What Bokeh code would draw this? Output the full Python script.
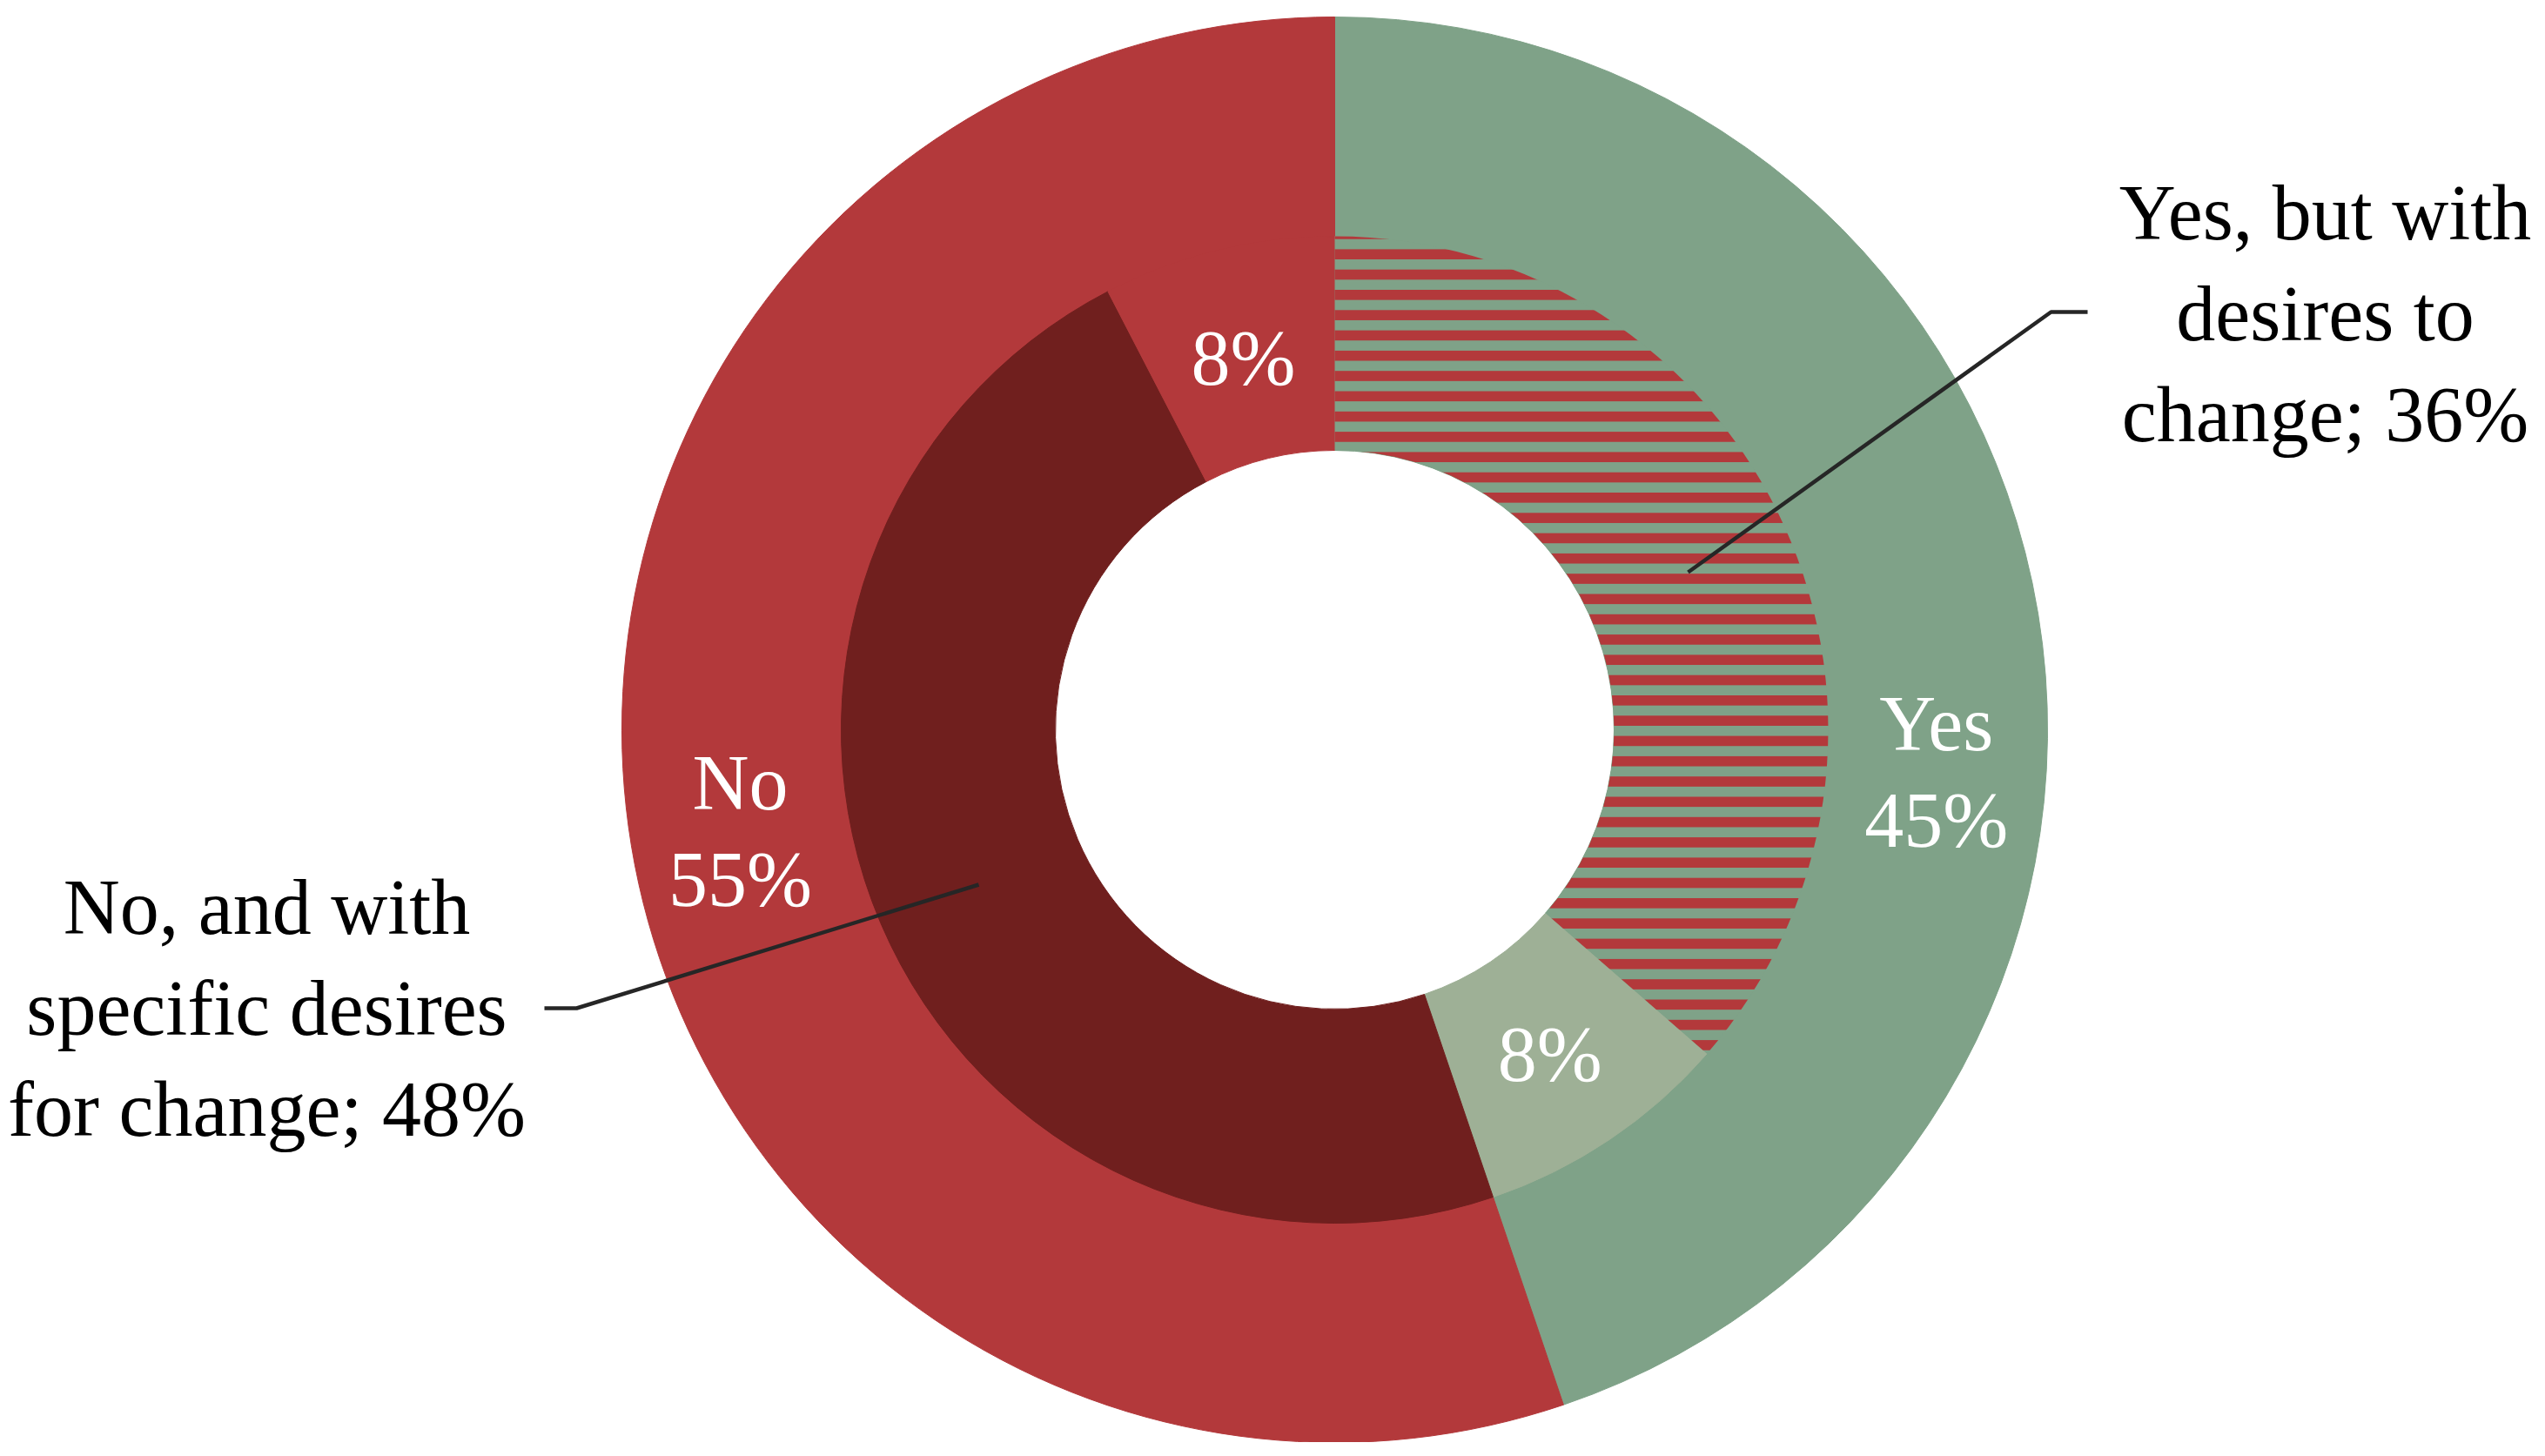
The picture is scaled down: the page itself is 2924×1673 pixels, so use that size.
import math
from bokeh.plotting import figure
from bokeh.models import Range1d, ColumnDataSource
from bokeh.core.properties import value
from bokeh.embed import file_html
from bokeh.resources import INLINE

# ---------------- data ----------------
outer_categories = ["Yes", "No"]
outer_values = [44.8, 55.2]
outer_pct_text = ["45%", "55%"]

inner_categories = ["Yes, but with desires to change", "Yes",
                    "No, and with specific desires for change", "No"]
inner_values = [36.4, 8.4, 47.6, 7.6]
inner_pct_text = ["36%", "8%", "48%", "8%"]

# ---------------- style / layout ----------------
RED = "#b3393b"
GREEN = "#7fa288"
DARK_RED = "#701f1e"
LIGHT_GREEN = "#9eb096"
outer_colors = [GREEN, RED]
inner_colors = [GREEN, LIGHT_GREEN, DARK_RED, RED]

PAGE_W, PAGE_H = 2924, 1673
W, H = 2908, 1657


def Y(py):
    return PAGE_H - py


CX, CY = 1533, Y(838)
R_OUT, R_MID, R_HOLE = 819, 567, 321
FONT = value("Liberation Serif")
FS = "90px"


def angles(values):
    total = float(sum(values))
    starts, ends, mids = [], [], []
    cum = 0.0
    for v in values:
        a0 = math.pi / 2 - 2 * math.pi * cum / total
        a1 = math.pi / 2 - 2 * math.pi * (cum + v) / total
        starts.append(a0)
        ends.append(a1)
        mids.append((a0 + a1) / 2)
        cum += v
    return starts, ends, mids


p = figure(width=W, height=H, output_backend="svg", toolbar_location=None,
           x_range=Range1d(0, W), y_range=Range1d(PAGE_H - H, PAGE_H),
           x_axis_location=None, y_axis_location=None, min_border=0)
p.grid.visible = False
p.outline_line_color = None
p.background_fill_color = "white"
p.border_fill_color = "white"

# outer ring
o_s, o_e, o_m = angles(outer_values)
outer_src = ColumnDataSource(dict(start=o_s, end=o_e, color=outer_colors,
                                  cat=outer_categories))
p.annular_wedge(x=CX, y=CY, inner_radius=R_MID - 3, outer_radius=R_OUT,
                start_angle="start", end_angle="end", direction="clock",
                fill_color="color", line_color="color", line_width=1,
                source=outer_src)

# inner ring
i_s, i_e, i_m = angles(inner_values)
inner_src = ColumnDataSource(dict(start=i_s, end=i_e, color=inner_colors,
                                  cat=inner_categories))
p.annular_wedge(x=CX, y=CY, inner_radius=R_HOLE, outer_radius=R_MID,
                start_angle="start", end_angle="end", direction="clock",
                fill_color="color", line_color="color", line_width=1,
                source=inner_src)

# hatched wedge (first inner category)
p.annular_wedge(x=CX, y=CY, inner_radius=R_HOLE, outer_radius=R_MID,
                start_angle=i_s[0], end_angle=i_e[0], direction="clock",
                fill_color=GREEN, line_color=None,
                hatch_pattern="horizontal_line", hatch_color=RED,
                hatch_scale=23.3, hatch_weight=11.5, hatch_alpha=1.0)

# inner labels (8% slices)
R_IN_LAB = (R_HOLE + R_MID) / 2
lab_idx = [1, 3]
p.text(x=[CX + R_IN_LAB * math.cos(i_m[k]) for k in lab_idx],
       y=[CY + R_IN_LAB * math.sin(i_m[k]) - 4 for k in lab_idx],
       text=[inner_pct_text[k] for k in lab_idx],
       text_font=FONT, text_font_size=FS, text_color="white",
       text_align="center", text_baseline="middle")

# outer labels
R_OUT_LAB = (R_MID + R_OUT) / 2
outer_label_angles = [math.radians(90 - 94), math.radians(90 - 260.3)]
p.text(x=[CX + R_OUT_LAB * math.cos(a) for a in outer_label_angles],
       y=[CY + R_OUT_LAB * math.sin(a) for a in outer_label_angles],
       text=[c + "\n" + t for c, t in zip(outer_categories, outer_pct_text)],
       text_font=FONT, text_font_size=FS, text_color="white",
       text_align="center", text_baseline="middle", text_line_height=1.12)

# callouts
callouts = [
    ("Yes, but with\ndesires to\nchange; " + inner_pct_text[0],
     (2671, 360), [(1939, 657), (2356, 358), (2398, 358)]),
    ("No, and with\nspecific desires\nfor change; " + inner_pct_text[2],
     (306, 1158), [(1124, 1016), (662, 1158), (625, 1158)]),
]
for txt, (tx, ty), pts in callouts:
    p.line(x=[q[0] for q in pts], y=[Y(q[1]) for q in pts],
           line_color="#262626", line_width=4.5)
    p.text(x=[tx], y=[Y(ty)], text=[txt], text_font=FONT, text_font_size=FS,
           text_color="black", text_align="center", text_baseline="middle",
           text_line_height=1.17)

open("out.html", "w").write(file_html(p, INLINE))
